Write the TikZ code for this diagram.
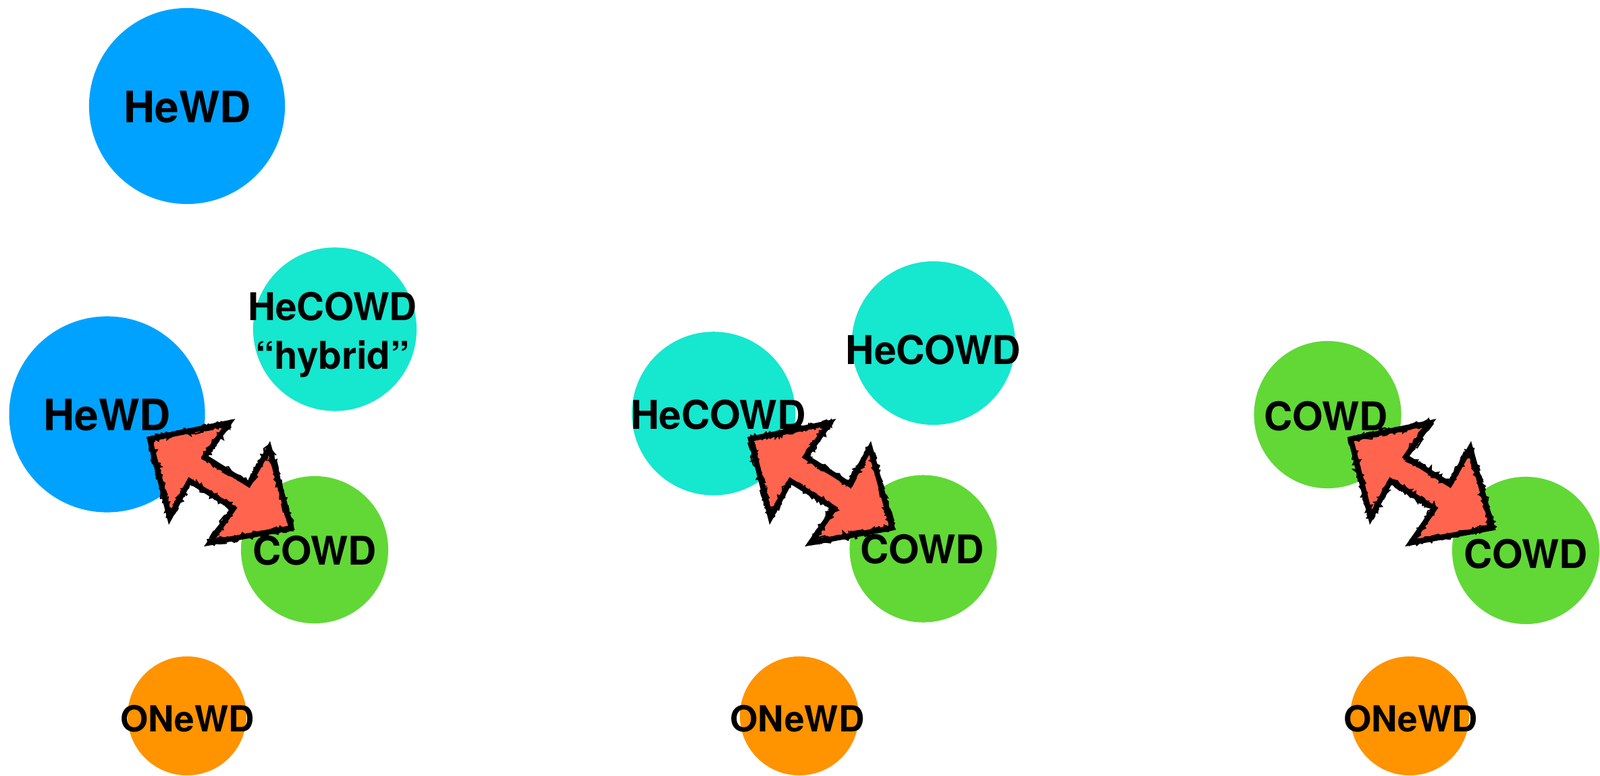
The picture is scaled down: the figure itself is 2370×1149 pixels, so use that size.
\documentclass[tikz,border=0pt]{standalone}
\usepackage{fontspec}
\setmainfont{TeX Gyre Heros}
\usetikzlibrary{decorations.pathmorphing}
\definecolor{cblue}{HTML}{00A2FF}
\definecolor{cteal}{HTML}{16E7CF}
\definecolor{cgreen}{HTML}{61D836}
\definecolor{corange}{HTML}{FF9300}
\definecolor{ccoral}{HTML}{FF644E}
\tikzset{
  disc/.style={circle, inner sep=0pt, outer sep=0pt, draw=none, minimum size=#1},
  bigdisc/.style={disc=2.90cm},
  middisc/.style={disc=2.42cm},
  smalldisc/.style={disc=2.18cm},
  tinydisc/.style={disc=1.76cm},
  lbl/.style={inner sep=0pt, outer sep=0pt, text=black},
  lblA/.style={lbl, font=\fontsize{18.2}{22}\selectfont\bfseries},
  lblB/.style={lbl, font=\fontsize{16.7}{20.4}\selectfont\bfseries},
  lblH/.style={lbl, align=center, font=\fontsize{16.1}{20.4}\selectfont\bfseries},
  lblC/.style={lbl, font=\fontsize{16.6}{20}\selectfont\bfseries},
  lblD/.style={lbl, font=\fontsize{15.1}{18}\selectfont\bfseries},
  arrowfill/.style={fill=ccoral, draw=none},
  solidedge/.style={draw=black, line width=2.2pt, line join=miter, miter limit=12},
  roughedge/.style={draw=black, line width=1.6pt, line join=miter, miter limit=3,
    decorate, decoration={random steps, segment length=0.8pt, amplitude=0.9pt}},
  hairedge/.style={draw=black, line width=0.6pt, line join=miter, miter limit=3,
    decorate, decoration={random steps, segment length=1.5pt, amplitude=1.8pt}},
  dblarrow/.pic={
    \path[arrowfill] (0,0) -- (117.8,-24.1) -- (81.5,26.3) -- (146.7,67.2)
      -- (177.1,13.1) -- (210,131.7) -- (88.9,153.7) -- (124.3,102.8)
      -- (59.1,61.9) -- (29.6,116.5) -- cycle;
    \path[solidedge] (0,0) -- (117.8,-24.1) -- (81.5,26.3) -- (146.7,67.2)
      -- (177.1,13.1) -- (210,131.7) -- (88.9,153.7) -- (124.3,102.8)
      -- (59.1,61.9) -- (29.6,116.5) -- cycle;
    \path[roughedge] (0,0) -- (117.8,-24.1) -- (81.5,26.3) -- (146.7,67.2)
      -- (177.1,13.1) -- (210,131.7) -- (88.9,153.7) -- (124.3,102.8)
      -- (59.1,61.9) -- (29.6,116.5) -- cycle;
    \path[hairedge] (0,0) -- (117.8,-24.1) -- (81.5,26.3) -- (146.7,67.2)
      -- (177.1,13.1) -- (210,131.7) -- (88.9,153.7) -- (124.3,102.8)
      -- (59.1,61.9) -- (29.6,116.5) -- cycle;
  }
}
\begin{document}
\begin{tikzpicture}[x=0.01cm, y=-0.01cm]
\useasboundingbox (0,0) rectangle (2370,1149);
\fill[white] (0,0) rectangle (2370,1149);

% left group
\node[bigdisc, fill=cblue] (heA) at (277,157) {};
\node[middisc, fill=cteal] (hyb) at (496,487.5) {};
\node[bigdisc, fill=cblue] (heB) at (158.6,613.5) {};
\node[smalldisc, fill=cgreen] (coA) at (466,814) {};
\node[tinydisc, fill=corange] (onA) at (277,1060) {};

% middle group
\node[middisc, fill=cteal] (hcL) at (1057,612.3) {};
\node[middisc, fill=cteal] (hcR) at (1382.7,508) {};
\node[smalldisc, fill=cgreen] (coB) at (1367.5,812.5) {};
\node[tinydisc, fill=corange] (onB) at (1184,1060) {};

% right group
\node[smalldisc, fill=cgreen] (coC) at (1966.5,614) {};
\node[smalldisc, fill=cgreen] (coD) at (2260,815) {};
\node[tinydisc, fill=corange] (onC) at (2088,1060) {};

% arrows
\pic (arA) at (221.7,650) {dblarrow};
\pic (arB) at (1111.7,650) {dblarrow};
\pic (arC) at (2000.7,650) {dblarrow};

% labels
\node[lblA] (tHeA) at (277.5,158.5) {HeWD};
\node[lblA] (tHeB) at (158.6,614) {HeWD};
\node[lblH] (tHyb) at (492.5,495.4) {HeCOWD\\“hybrid”};
\node[lblC] (tCoA) at (465.8,815.7) {COWD};
\node[lblD] (tOnA) at (277.5,1064) {ONeWD};

\node[lblB] (tHcL) at (1064,613.6) {HeCOWD};
\node[lblB] (tHcR) at (1382.4,518) {HeCOWD};
\node[lblC] (tCoB) at (1366,813.4) {COWD};
\node[lblD] (tOnB) at (1181,1064) {ONeWD};

\node[lblC] (tCoC) at (1964,616) {COWD};
\node[lblC] (tCoD) at (2259.8,820) {COWD};
\node[lblD] (tOnC) at (2089.6,1064) {ONeWD};
\end{tikzpicture}
\end{document}
